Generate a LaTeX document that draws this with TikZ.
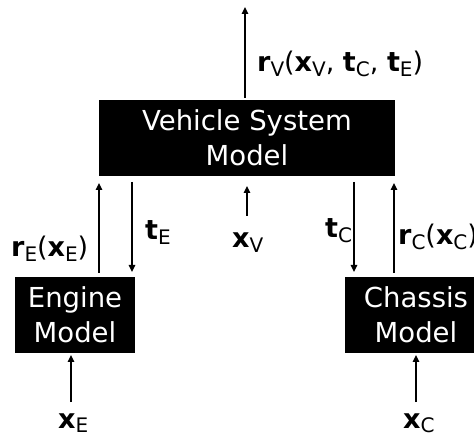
\documentclass[tikz,border=0pt]{standalone}
\usepackage{fontspec}
\setmainfont{DejaVu Sans}
\usetikzlibrary{arrows.meta}
\newcommand{\sbs}[1]{\raisebox{-5pt}{\fontseries{m}\fontsize{20}{20}\selectfont #1}}
\newcommand{\bv}[1]{\textbf{#1}}
\begin{document}
\begin{tikzpicture}[x=1pt,y=-1pt,
  blk/.style={fill=black,text=white,align=center,font=\fontsize{27.5}{35}\selectfont,inner sep=0pt,minimum height=76pt},
  lbl/.style={font=\fontsize{27}{30}\selectfont,inner sep=0pt,anchor=base west},
  arr/.style={-{Triangle[length=7pt,width=6.5pt]},line width=1.3pt}]
\useasboundingbox (0,0) rectangle (474,438);
% blocks
\node[blk,minimum width=296pt] (vsm) at (247,138) {Vehicle System\\Model};
\node[blk,minimum width=120pt] (eng) at (75,315) {Engine\\Model};
\node[blk,minimum width=142pt] (cha) at (416,315) {Chassis\\Model};
% arrow end points
\coordinate (vtop) at (245,7);
\coordinate (vbot) at (245,98);
\coordinate (reS) at (99,273);
\coordinate (reT) at (99,183);
\coordinate (teS) at (132,182);
\coordinate (teT) at (132,272);
\coordinate (xvS) at (247,216);
\coordinate (xvT) at (247,186);
\coordinate (tcS) at (354,182);
\coordinate (tcT) at (354,272);
\coordinate (rcS) at (394,273);
\coordinate (rcT) at (394,183);
\coordinate (xeS) at (71,402);
\coordinate (xeT) at (71,355);
\coordinate (xcS) at (416,402);
\coordinate (xcT) at (416,355);
% arrows
\draw[arr] (vbot) -- (vtop);
\draw[arr] (reS) -- (reT);
\draw[arr] (teS) -- (teT);
\draw[arr] (xvS) -- (xvT);
\draw[arr] (tcS) -- (tcT);
\draw[arr] (rcS) -- (rcT);
\draw[arr] (xeS) -- (xeT);
\draw[arr] (xcS) -- (xcT);
% labels
\node[lbl] (lrv) at (257,72) {\bv{r}\sbs{V}(\bv{x}\sbs{V}, \bv{t}\sbs{C}, \bv{t}\sbs{E})};
\node[lbl] (lre) at (11,257) {\bv{r}\sbs{E}(\bv{x}\sbs{E})};
\node[lbl] (lte) at (145,240) {\bv{t}\sbs{E}};
\node[lbl] (lxv) at (232,248) {\bv{x}\sbs{V}};
\node[lbl] (ltc) at (325,238) {\bv{t}\sbs{C}};
\node[lbl] (lrc) at (398,245) {\bv{r}\sbs{C}(\bv{x}\sbs{C})};
\node[lbl] (lxe) at (58,428) {\bv{x}\sbs{E}};
\node[lbl] (lxc) at (403,428) {\bv{x}\sbs{C}};
\end{tikzpicture}
\end{document}
